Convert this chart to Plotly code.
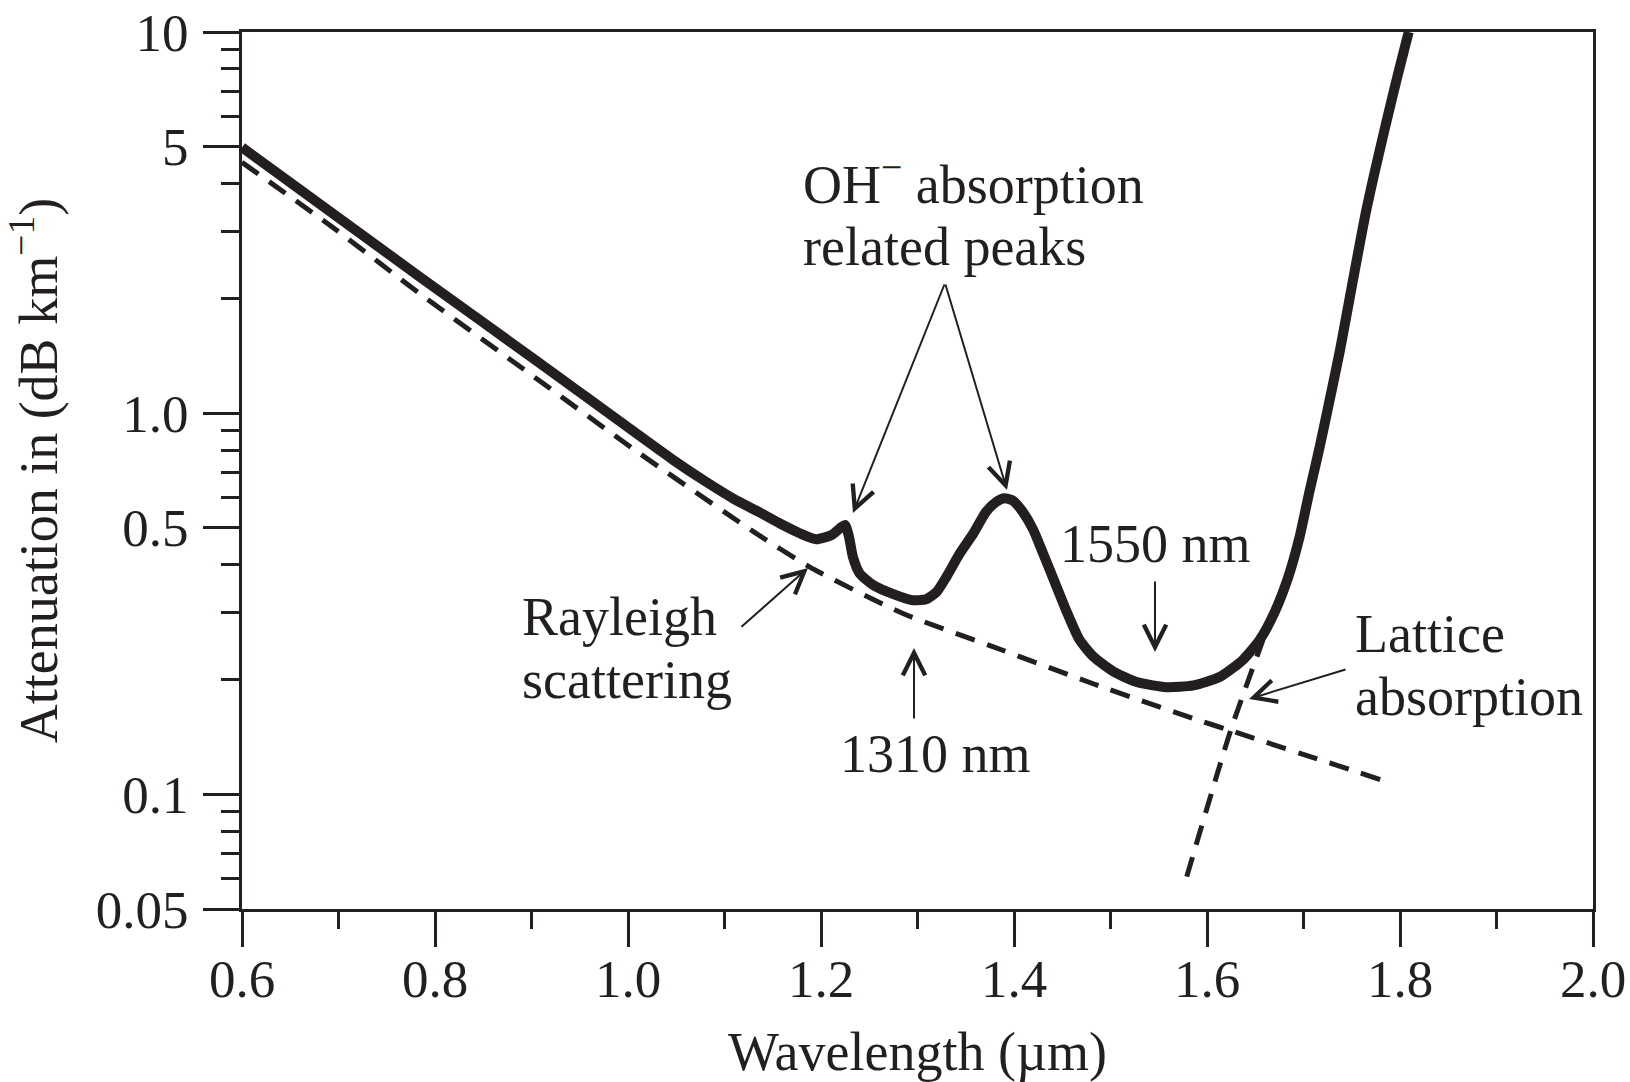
import numpy as np
import plotly.graph_objects as go

# ---------------- data ----------------
# Total measured attenuation (solid curve)
wl_total = [0.600, 0.784, 0.909, 1.047, 1.081, 1.110, 1.137, 1.157, 1.178, 1.195,
            1.211, 1.221, 1.225, 1.229, 1.233, 1.240, 1.254, 1.275, 1.295, 1.309,
            1.320, 1.330, 1.344, 1.358, 1.371, 1.382, 1.390, 1.399, 1.409, 1.420,
            1.430, 1.440, 1.454, 1.468, 1.482, 1.503, 1.527, 1.558, 1.586, 1.613,
            1.637, 1.655, 1.670, 1.684, 1.696, 1.706, 1.717, 1.727, 1.7375, 1.765,
            1.793, 1.809]
att_total = [4.98, 2.28, 1.35, 0.753, 0.66, 0.595, 0.548, 0.514, 0.484, 0.467,
             0.479, 0.502, 0.509, 0.474, 0.420, 0.380, 0.354, 0.335, 0.323, 0.325,
             0.340, 0.372, 0.429, 0.484, 0.551, 0.586, 0.598, 0.589, 0.551, 0.494,
             0.429, 0.372, 0.304, 0.254, 0.230, 0.210, 0.197, 0.191, 0.193, 0.203,
             0.225, 0.255, 0.300, 0.370, 0.474, 0.62, 0.82, 1.08, 1.45, 3.4,
             6.9, 10.0]

# Rayleigh scattering (dashed)
wl_rayleigh = [0.600, 0.698, 0.784, 0.898, 1.012, 1.130, 1.188, 1.285, 1.378,
               1.482, 1.586, 1.624, 1.781]
att_rayleigh = [4.55, 3.02, 2.06, 1.27, 0.784, 0.489, 0.395, 0.298, 0.244,
                0.195, 0.158, 0.147, 0.109]

# Lattice absorption (dashed)
wl_lattice = [1.579, 1.6245, 1.658]
att_lattice = [0.0608, 0.147, 0.254]

# axis ticks
x_ticks = [0.6, 0.8, 1.0, 1.2, 1.4, 1.6, 1.8, 2.0]
x_ticktext = ["0.6", "0.8", "1.0", "1.2", "1.4", "1.6", "1.8", "2.0"]
x_minor = [0.7, 0.9, 1.1, 1.3, 1.5, 1.7, 1.9]
y_ticks = [0.05, 0.1, 0.5, 1.0, 5, 10]
y_ticktext = ["0.05", "0.1", "0.5", "1.0", "5", "10"]
y_minor = [0.06, 0.07, 0.08, 0.09, 0.2, 0.3, 0.4, 0.6, 0.7, 0.8, 0.9,
           2, 3, 4, 6, 7, 8, 9]

# ---------------- layout geometry ----------------
W, H = 1630, 1082
L, R, T, B = 242, 1593, 32, 909
INK = "#231f20"
FONT = "Liberation Serif, Times New Roman, serif"
FS = 54
FS_TICK = 53


def px(xp):
    return (xp - L) / (R - L)


def py(yp):
    return (B - yp) / (B - T)


fig = go.Figure()
fig.add_trace(go.Scatter(x=wl_rayleigh, y=att_rayleigh, mode="lines",
                         line=dict(color=INK, width=5, dash="20px,13px", shape="spline", smoothing=0.6),
                         showlegend=False, hoverinfo="skip"))
fig.add_trace(go.Scatter(x=wl_lattice, y=att_lattice, mode="lines",
                         line=dict(color=INK, width=5, dash="20px,13px", shape="spline", smoothing=0.6),
                         showlegend=False, hoverinfo="skip"))
fig.add_trace(go.Scatter(x=wl_total, y=att_total, mode="lines",
                         line=dict(color=INK, width=10, shape="spline", smoothing=0.6),
                         showlegend=False, hoverinfo="skip"))

annotations = []

# text lines: (text, left x px, vertical centre y px)
texts = [
    ("OH<sup>−</sup> absorption", 801, 180),
    ("related peaks", 801, 247),
    ("Rayleigh", 520, 617),
    ("scattering", 520, 680),
    ("1310 nm", 838, 754),
    ("1550 nm", 1058, 544),
    ("Lattice", 1353, 634),
    ("absorption", 1353, 697),
]
for t, xl, yc in texts:
    annotations.append(dict(text=t, xref="paper", yref="paper", x=px(xl), y=py(yc),
                            xanchor="left", yanchor="middle", align="left", showarrow=False,
                            font=dict(family=FONT, size=FS, color=INK)))

# arrows: (tail x, tail y, head x, head y) in px
arrows = [
    (945, 283, 853, 513),
    (945, 283, 1007, 490),
    (740, 628, 808, 568),
    (914, 720, 914, 648),
    (1155, 580, 1155, 652),
    (1347, 669, 1249, 699),
]
for tx, ty, hx, hy in arrows:
    annotations.append(dict(text="", xref="paper", yref="paper", x=px(hx), y=py(hy),
                            axref="pixel", ayref="pixel", ax=tx - hx, ay=ty - hy,
                            showarrow=True, arrowhead=5, arrowsize=2.2, arrowwidth=2,
                            arrowcolor=INK, standoff=0))

fig.update_layout(
    width=W, height=H,
    margin=dict(l=L, r=W - R, t=T, b=H - B, autoexpand=False),
    paper_bgcolor="white", plot_bgcolor="white",
    font=dict(family=FONT, size=FS, color=INK),
    annotations=annotations,
    showlegend=False,
)

fig.update_xaxes(
    range=[0.6, 2.0], tickmode="array", tickvals=x_ticks, ticktext=x_ticktext,
    ticks="outside", ticklen=35, tickwidth=3, tickcolor=INK,
    minor=dict(tickmode="array", tickvals=x_minor, ticks="outside", ticklen=17,
               tickwidth=3, tickcolor=INK, showgrid=False),
    showline=True, linewidth=3, linecolor=INK, mirror=True, showgrid=False, zeroline=False,
    tickfont=dict(family=FONT, size=FS_TICK, color=INK), ticklabelstandoff=-14,
    title=dict(text="Wavelength (µm)", font=dict(family=FONT, size=FS, color=INK), standoff=26),
    automargin=False,
)
fig.update_yaxes(
    type="log", range=[np.log10(0.05), 1], tickmode="array", tickvals=y_ticks, ticktext=y_ticktext,
    ticks="outside", ticklen=36, tickwidth=3, tickcolor=INK,
    minor=dict(tickmode="array", tickvals=y_minor, ticks="outside", ticklen=18,
               tickwidth=3, tickcolor=INK, showgrid=False),
    showline=True, linewidth=3, linecolor=INK, mirror=True, showgrid=False, zeroline=False,
    tickfont=dict(family=FONT, size=FS_TICK, color=INK), ticklabelstandoff=4,
    title=dict(text="Attenuation in (dB km<sup>−1</sup>)", font=dict(family=FONT, size=FS, color=INK), standoff=28),
    automargin=False,
)

fig.write_html("out.html")
